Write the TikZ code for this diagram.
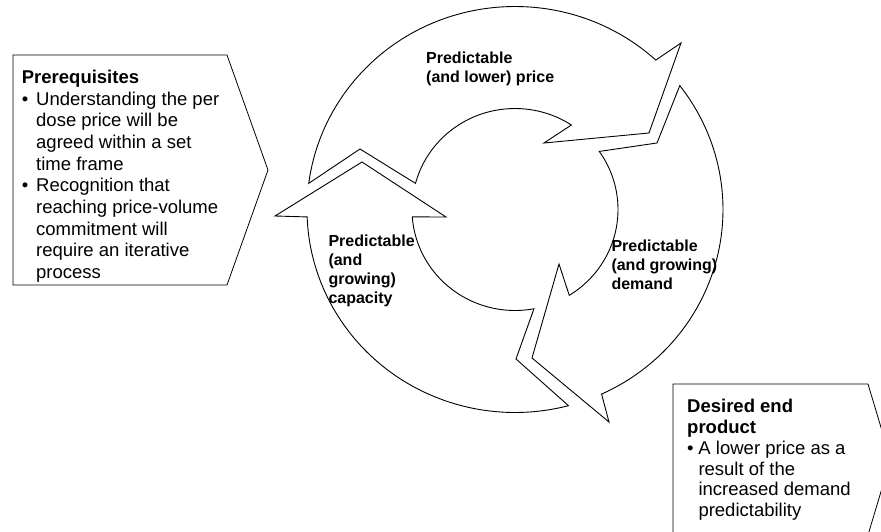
\documentclass[tikz,border=0pt]{standalone}
\usepackage{fontspec}
\setmainfont{Liberation Sans}
\usetikzlibrary{calc}

\tikzset{
  cyclearrow/.style={draw=black, line width=0.9pt, fill=white, line join=miter},
  sidebox/.style={draw=black, line width=0.8pt, fill=white},
  boxtext/.style={inner sep=0pt, font=\fontsize{18.5}{21.7}\selectfont},
  goaltext/.style={inner sep=0pt, font=\fontsize{18.5}{20.8}\selectfont},
  cycletext/.style={inner sep=0pt, font=\fontsize{16}{19}\selectfont\bfseries},
}
% a block of lines whose last baseline sits on the node's baseline
\newcommand{\lines}[1]{\parbox[b]{260pt}{\raggedright #1}}
\newcommand{\prebul}{\makebox[14.3pt][l]{•}}
\newcommand{\preind}{\hspace*{14.3pt}}
\newcommand{\goalbul}{\makebox[11.3pt][l]{•}}
\newcommand{\goalind}{\hspace*{11.3pt}}

\begin{document}
\begin{tikzpicture}[x=1pt, y=1pt]
\useasboundingbox (0,0) rectangle (881,-532);
\begin{scope}
\clip (0,0) rectangle (881,-532);

% centre of the cycle
\coordinate (C) at (515,-209.5);

% upper arrow: price
\draw[cyclearrow]
  ($(C)+(172.6:208pt and 203pt)$) -- (360,-149)
  -- ($(C)+(165:103pt and 101pt)$)
  arc[start angle=165, end angle=56.8, x radius=103pt, y radius=101pt]
  -- (544,-143) -- (649,-133) -- (681,-43)
  -- ($(C)+(47.4:208pt and 203pt)$)
  arc[start angle=47.4, end angle=172.6, x radius=208pt, y radius=203pt]
  -- cycle;

% right arrow: demand
\draw[cyclearrow]
  ($(C)+(37.6:208pt and 203pt)$) -- (657,-143)
  -- ($(C)+(35.1:103pt and 101pt)$)
  arc[start angle=35.1, end angle=-58.2, x radius=103pt, y radius=101pt]
  -- (559,-264) -- (532,-358) -- (609,-422)
  -- ($(C)+(-65.4:208pt and 203pt)$)
  arc[start angle=-65.4, end angle=37.6, x radius=208pt, y radius=203pt]
  -- cycle;

% left arrow: capacity
\draw[cyclearrow]
  ($(C)+(284.9:208pt and 203pt)$) -- (516,-359)
  -- ($(C)+(280.6:103pt and 101pt)$)
  arc[start angle=280.6, end angle=184.2, x radius=103pt, y radius=101pt]
  -- (446,-217) -- (362,-162) -- (275,-216)
  -- ($(C)+(182.1:208pt and 203pt)$)
  arc[start angle=182.1, end angle=284.9, x radius=208pt, y radius=203pt]
  -- cycle;

% cycle labels (anchored at the baseline of the last line)
\node[cycletext, anchor=base west] (price) at (426,-82.3)
  {\lines{Predictable\\(and lower) price}};
\node[cycletext, anchor=base west] (capacity) at (328.3,-303.7)
  {\lines{Predictable\\(and\\growing)\\capacity}};
\node[cycletext, anchor=base west] (demand) at (611.3,-289.7)
  {\lines{Predictable\\(and growing)\\demand}};

% prerequisites box
\draw[sidebox] (13,-55) -- (227,-55) -- (268,-170) -- (227,-285) -- (13,-285) -- cycle;
\node[boxtext, anchor=base west] (prereq) at (21.7,-278.6)
  {\lines{\textbf{Prerequisites}\\
   \prebul Understanding the per\\
   \preind dose price will be\\
   \preind agreed within a set\\
   \preind time frame\\
   \prebul Recognition that\\
   \preind reaching price-volume\\
   \preind commitment will\\
   \preind require an iterative\\
   \preind process}};

% desired end product box
\draw[sidebox] (673,-384) -- (868,-384) -- (890.6,-459.5) -- (868,-535) -- (673,-535) -- cycle;
\node[goaltext, anchor=base west] (goal) at (687,-516.7)
  {\lines{\textbf{Desired end}\\
   \textbf{product}\\
   \goalbul A lower price as a\\
   \goalind result of the\\
   \goalind increased demand\\
   \goalind predictability}};
\end{scope}
\end{tikzpicture}
\end{document}
